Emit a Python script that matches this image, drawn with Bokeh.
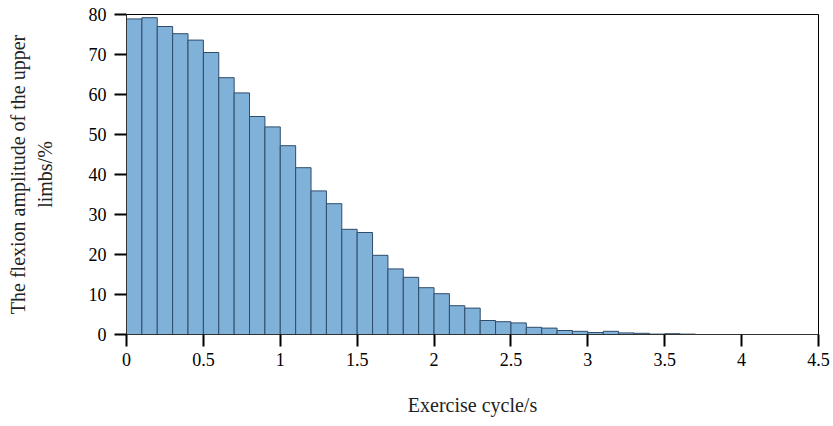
from bokeh.plotting import figure
from bokeh.models import Range1d, ColumnDataSource, FixedTicker
from bokeh.embed import file_html
from bokeh.resources import INLINE

# Histogram data
bin_left = [0.0, 0.1, 0.2, 0.3, 0.4, 0.5, 0.6, 0.7, 0.8, 0.9,
            1.0, 1.1, 1.2, 1.3, 1.4, 1.5, 1.6, 1.7, 1.8, 1.9,
            2.0, 2.1, 2.2, 2.3, 2.4, 2.5, 2.6, 2.7, 2.8, 2.9,
            3.0, 3.1, 3.2, 3.3, 3.4, 3.5, 3.6]
amplitude = [78.9, 79.2, 77.0, 75.2, 73.6, 70.5, 64.2, 60.4, 54.5, 51.9,
             47.2, 41.7, 35.9, 32.7, 26.3, 25.5, 19.8, 16.4, 14.3, 11.7,
             10.2, 7.2, 6.6, 3.5, 3.2, 2.9, 1.8, 1.6, 1.0, 0.8,
             0.5, 0.8, 0.4, 0.3, 0.1, 0.2, 0.1]
bin_width = 0.1
x_ticks = [0, 0.5, 1, 1.5, 2, 2.5, 3, 3.5, 4, 4.5]
y_ticks = [0, 10, 20, 30, 40, 50, 60, 70, 80]

src = ColumnDataSource(dict(
    left=bin_left,
    right=[b + bin_width for b in bin_left],
    top=amplitude,
    bottom=[0] * len(bin_left),
))

FONT = "Liberation Serif"

p = figure(width=833, height=426, output_backend="svg", toolbar_location=None,
           x_range=Range1d(0, 4.5), y_range=Range1d(0, 80),
           min_border_left=126, min_border_right=15, min_border_top=14, min_border_bottom=92)

p.quad(left="left", right="right", top="top", bottom="bottom", source=src,
       fill_color="#80b1d9", line_color="#2f4c6b", line_width=1)

p.xgrid.visible = False
p.ygrid.visible = False
p.outline_line_color = "black"
p.outline_line_width = 1
p.background_fill_color = "white"
p.border_fill_color = "white"

p.xaxis.ticker = FixedTicker(ticks=x_ticks)
p.yaxis.ticker = FixedTicker(ticks=y_ticks)
p.xaxis.major_label_overrides = {t: (str(t) if t != int(t) else str(int(t))) for t in x_ticks}

for ax in (p.xaxis, p.yaxis):
    ax.major_tick_out = 12
    ax.major_tick_in = 0
    ax.major_tick_line_width = 2
    ax.major_tick_line_color = "black"
    ax.minor_tick_line_color = None
    ax.axis_line_color = "#333333"
    ax.axis_line_width = 1
    ax.major_label_text_font = FONT
    ax.major_label_text_font_size = "18px"
    ax.major_label_text_color = "black"
    ax.axis_label_text_font = FONT
    ax.axis_label_text_font_size = "20px"
    ax.axis_label_text_font_style = "normal"
    ax.axis_label_text_color = "#222222"

p.xaxis.axis_label = "Exercise cycle/s"
p.yaxis.axis_label = "The flexion amplitude of the upper\nlimbs/%"
p.xaxis.major_label_standoff = 6
p.yaxis.major_label_standoff = 8
p.xaxis.axis_label_standoff = 25
p.yaxis.axis_label_standoff = 30

open("out.html", "w").write(file_html(p, INLINE))
